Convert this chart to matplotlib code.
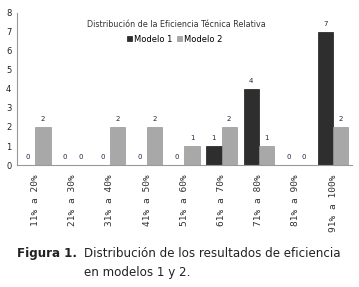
import matplotlib
matplotlib.use("Agg")
import matplotlib.pyplot as plt
import numpy as np

categories = ["11% a 20%", "21% a 30%", "31% a 40%", "41% a 50%", "51% a 60%",
              "61% a 70%", "71% a 80%", "81% a 90%", "91% a 100%"]
modelo1 = [0, 0, 0, 0, 0, 1, 4, 0, 7]
modelo2 = [2, 0, 2, 2, 1, 2, 1, 0, 2]
yticks = [0, 1, 2, 3, 4, 5, 6, 7, 8]

fig = plt.figure(figsize=(3.59, 2.87), dpi=100)
ax = fig.add_axes([0.047, 0.425, 0.933, 0.530])

x = np.arange(len(categories))
w = 0.41
ax.bar(x - w / 2, modelo1, w, color="#2e2e2e", edgecolor="#1a1a1a", linewidth=0.5, label="Modelo 1")
ax.bar(x + w / 2, modelo2, w, color="#a8a8a8", edgecolor="#989898", linewidth=0.5, label="Modelo 2")

for xi, v in zip(x - w / 2, modelo1):
    ax.text(xi, v + 0.25, str(v), ha="center", va="bottom", fontsize=5, color="#1f2a44")
for xi, v in zip(x + w / 2, modelo2):
    ax.text(xi, v + 0.25, str(v), ha="center", va="bottom", fontsize=5, color="#1f2a44")

ax.set_xlim(-0.5, len(categories) - 0.5)
ax.set_ylim(0, 8)
ax.set_yticks(yticks)
ax.set_yticklabels([str(t) for t in yticks], fontsize=6, color="#222222")
ax.set_xticks(x)
ax.set_xticklabels(categories, rotation=90, fontsize=6.8, family="DejaVu Sans Mono", color="#333333")
ax.tick_params(axis="x", length=0, pad=7)
ax.tick_params(axis="y", length=0, pad=4)
for s in ["top", "right"]:
    ax.spines[s].set_visible(False)
for s in ["left", "bottom"]:
    ax.spines[s].set_color("#999999")
    ax.spines[s].set_linewidth(0.8)

fig.text(0.49, 0.913, "Distribución de la Eficiencia Técnica Relativa", ha="center", va="center",
         fontsize=5.8, color="#333333")
ax.legend(loc="center", bbox_to_anchor=(0.487, 0.864), bbox_transform=fig.transFigure, ncol=2,
          fontsize=6, frameon=False,
          handlelength=0.6, handleheight=0.6, handletextpad=0.2, columnspacing=0.6, borderpad=0.2)

fig.text(0.047, 0.115, "Figura 1.", fontsize=8.6, fontweight="bold", color="#222222", va="center")
fig.text(0.234, 0.115, "Distribución de los resultados de eficiencia", fontsize=8.6, color="#222222", va="center")
fig.text(0.234, 0.052, "en modelos 1 y 2.", fontsize=8.6, color="#222222", va="center")

fig.savefig("out.png", dpi=100)
